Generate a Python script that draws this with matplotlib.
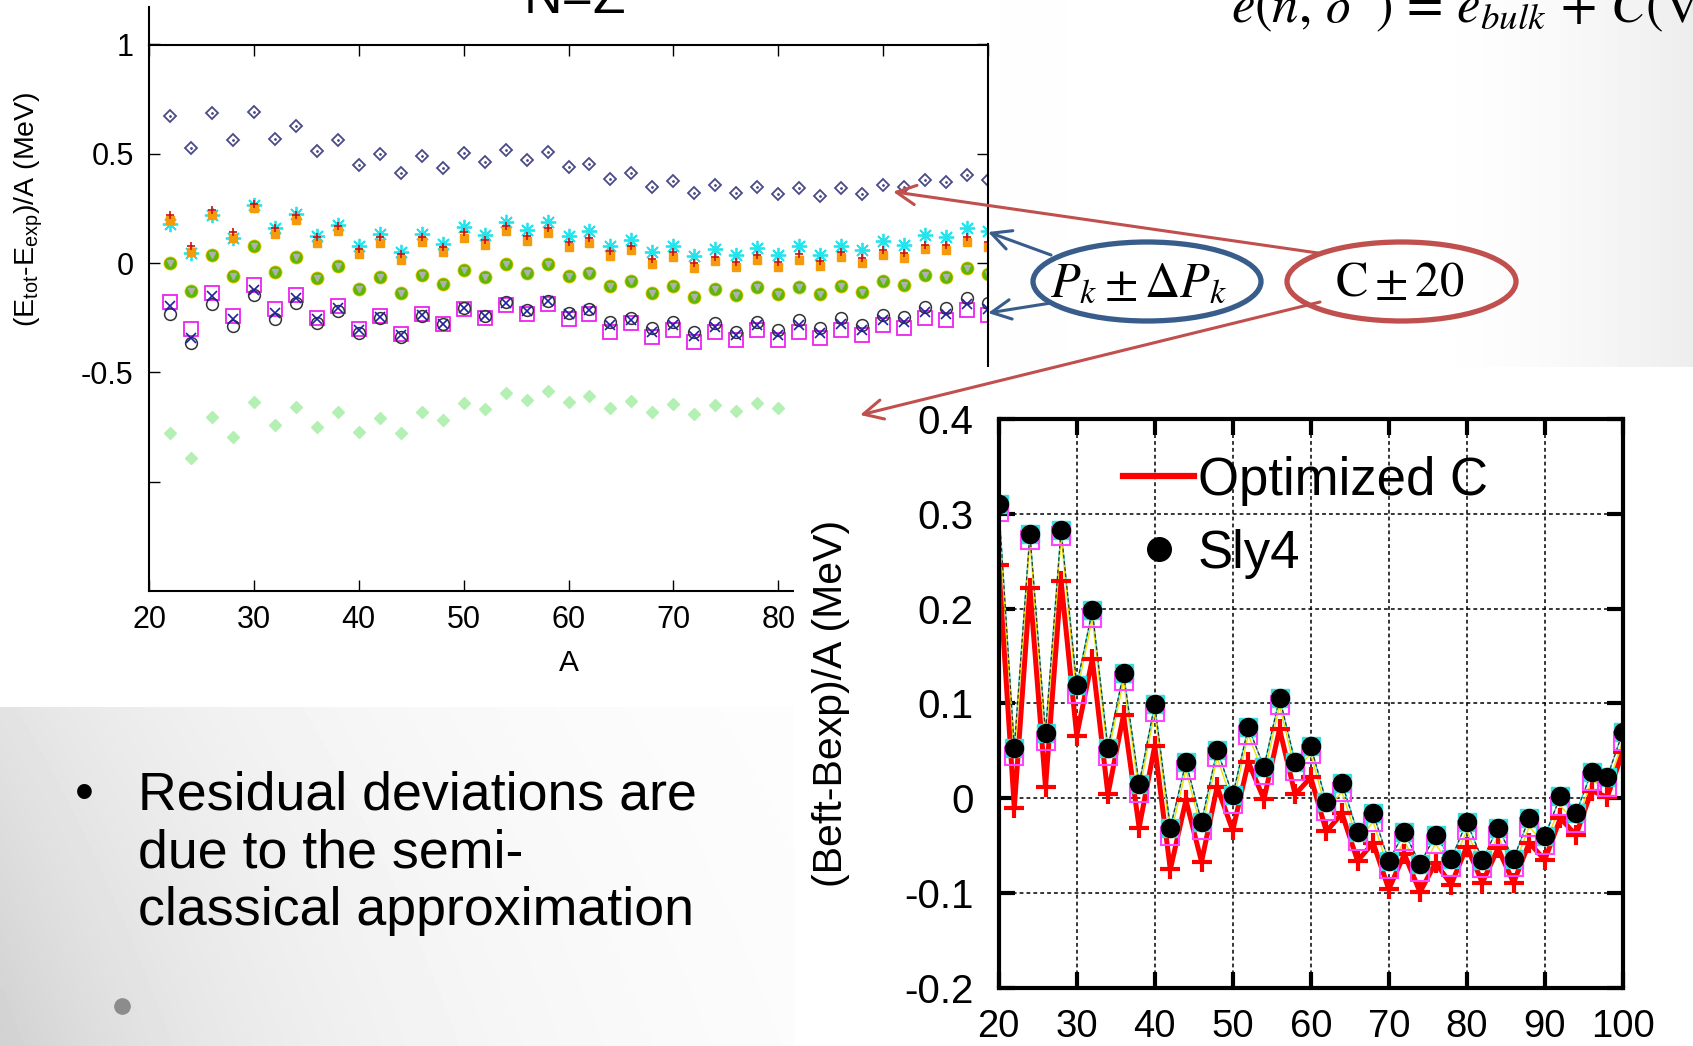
import numpy as np
import matplotlib
matplotlib.use("Agg")
import matplotlib.pyplot as plt
from matplotlib.patches import Ellipse, Rectangle
from matplotlib.lines import Line2D

plt.rcParams['font.family'] = ['Liberation Sans', 'DejaVu Sans']
plt.rcParams['axes.unicode_minus'] = False
plt.rcParams['mathtext.fontset'] = 'custom'
plt.rcParams['mathtext.rm'] = 'Liberation Sans'
plt.rcParams['mathtext.it'] = 'Liberation Sans:italic'

# === 左图数据 (N=Z, (Etot-Eexp)/A) ===
A_left = list(range(22, 101, 2))
open_diamond = [0.674, 0.526, 0.685, 0.565, 0.692, 0.568, 0.626, 0.514, 0.564, 0.448,
                0.497, 0.411, 0.488, 0.436, 0.503, 0.462, 0.516, 0.471, 0.506, 0.438,
                0.455, 0.387, 0.410, 0.347, 0.375, 0.321, 0.355, 0.320, 0.346, 0.317,
                0.344, 0.306, 0.344, 0.318, 0.358, 0.349, 0.378, 0.369, 0.405, 0.381]
cyan_star = [0.180, 0.045, 0.220, 0.117, 0.265, 0.159, 0.223, 0.126, 0.174, 0.076,
             0.132, 0.053, 0.135, 0.088, 0.167, 0.129, 0.190, 0.150, 0.190, 0.124,
             0.146, 0.080, 0.107, 0.050, 0.080, 0.031, 0.064, 0.038, 0.069, 0.038,
             0.076, 0.038, 0.080, 0.061, 0.099, 0.084, 0.130, 0.119, 0.161, 0.145]
red_plus = [0.220, 0.080, 0.245, 0.140, 0.270, 0.160, 0.220, 0.120, 0.170, 0.065,
            0.120, 0.040, 0.120, 0.075, 0.140, 0.105, 0.170, 0.125, 0.160, 0.095,
            0.115, 0.055, 0.080, 0.020, 0.050, 0.000, 0.030, 0.005, 0.035, 0.005,
            0.040, 0.010, 0.050, 0.025, 0.060, 0.045, 0.085, 0.085, 0.120, 0.095]
orange_sq = [0.197, 0.053, 0.220, 0.114, 0.250, 0.135, 0.197, 0.094, 0.147, 0.041,
             0.094, 0.015, 0.098, 0.050, 0.117, 0.083, 0.145, 0.100, 0.137, 0.072,
             0.093, 0.031, 0.058, -0.003, 0.028, -0.023, 0.009, -0.017, 0.012, -0.017,
             0.015, -0.015, 0.028, 0.000, 0.038, 0.023, 0.064, 0.061, 0.095, 0.073]
green_circ = [0.000, -0.129, 0.038, -0.061, 0.076, -0.041, 0.030, -0.068, -0.011, -0.117,
              -0.062, -0.136, -0.056, -0.095, -0.030, -0.065, -0.003, -0.047, -0.004, -0.061,
              -0.045, -0.104, -0.084, -0.135, -0.107, -0.156, -0.119, -0.145, -0.110, -0.141,
              -0.110, -0.141, -0.104, -0.130, -0.084, -0.099, -0.054, -0.064, -0.023, -0.049]
magenta_sq = [-0.177, -0.303, -0.136, -0.242, -0.098, -0.212, -0.144, -0.253, -0.197, -0.303,
              -0.242, -0.326, -0.235, -0.280, -0.212, -0.250, -0.190, -0.232, -0.189, -0.255,
              -0.232, -0.313, -0.275, -0.336, -0.306, -0.359, -0.313, -0.352, -0.306, -0.352,
              -0.313, -0.344, -0.306, -0.329, -0.283, -0.298, -0.252, -0.260, -0.214, -0.237]
black_circ = [-0.235, -0.364, -0.186, -0.288, -0.144, -0.258, -0.182, -0.273, -0.220, -0.318,
              -0.253, -0.338, -0.242, -0.280, -0.205, -0.242, -0.180, -0.215, -0.172, -0.228,
              -0.210, -0.268, -0.252, -0.298, -0.268, -0.313, -0.275, -0.313, -0.268, -0.306,
              -0.260, -0.298, -0.252, -0.283, -0.237, -0.245, -0.199, -0.206, -0.161, -0.183]
blue_x = [-0.197, -0.341, -0.152, -0.258, -0.121, -0.227, -0.159, -0.258, -0.205, -0.308,
          -0.247, -0.329, -0.238, -0.277, -0.205, -0.242, -0.181, -0.218, -0.175, -0.235,
          -0.215, -0.285, -0.260, -0.315, -0.285, -0.335, -0.292, -0.330, -0.285, -0.327,
          -0.285, -0.320, -0.280, -0.305, -0.260, -0.270, -0.225, -0.232, -0.188, -0.210]
# 浅绿菱形只在 A<=80 可见（右侧被右图遮住）
A_lightgreen = list(range(22, 81, 2))
lightgreen_dia = [-0.778, -0.893, -0.702, -0.794, -0.636, -0.740, -0.656, -0.748, -0.679, -0.771,
                  -0.709, -0.775, -0.682, -0.717, -0.641, -0.668, -0.595, -0.628, -0.583, -0.636,
                  -0.607, -0.664, -0.633, -0.683, -0.645, -0.691, -0.648, -0.676, -0.641, -0.664]
left_xticks = [20, 30, 40, 50, 60, 70, 80, 90, 100]
left_xticklabels = ['20', '30', '40', '50', '60', '70', '80', '', '']
left_yticks = [-1, -0.5, 0, 0.5, 1]
left_yticklabels = ['', '-0.5', '0', '0.5', '1']

# === 右图数据 ((Beft-Bexp)/A) ===
A_right = list(range(20, 101, 2))
sly4 = [0.310, 0.053, 0.279, 0.069, 0.283, 0.119, 0.198, 0.053, 0.132, 0.015,
        0.099, -0.031, 0.038, -0.025, 0.051, 0.003, 0.075, 0.033, 0.106, 0.038,
        0.055, -0.004, 0.016, -0.036, -0.016, -0.066, -0.036, -0.069, -0.039, -0.064,
        -0.025, -0.065, -0.031, -0.064, -0.021, -0.040, 0.002, -0.016, 0.028, 0.022, 0.070]
optimized_c = [0.246, -0.010, 0.222, 0.012, 0.229, 0.066, 0.147, 0.004, 0.088, -0.031,
               0.055, -0.075, -0.002, -0.067, 0.012, -0.034, 0.038, -0.001, 0.073, 0.004,
               0.022, -0.035, -0.016, -0.066, -0.047, -0.096, -0.059, -0.099, -0.068, -0.091,
               -0.051, -0.089, -0.053, -0.089, -0.047, -0.065, -0.021, -0.039, 0.008, 0.001, 0.049]
other_c = [0.302, 0.045, 0.272, 0.060, 0.276, 0.110, 0.190, 0.045, 0.124, 0.006,
           0.091, -0.040, 0.030, -0.034, 0.043, -0.006, 0.067, 0.024, 0.098, 0.029,
           0.047, -0.013, 0.007, -0.045, -0.025, -0.075, -0.045, -0.078, -0.048, -0.073,
           -0.034, -0.074, -0.040, -0.073, -0.030, -0.049, -0.008, -0.026, 0.018, 0.012, 0.060]
right_xticks = [20, 30, 40, 50, 60, 70, 80, 90, 100]
right_yticks = [-0.2, -0.1, 0, 0.1, 0.2, 0.3, 0.4]
right_yticklabels = ['-0.2', '-0.1', '0', '0.1', '0.2', '0.3', '0.4']

bullet_lines = ["Residual deviations are", "due to the semi-", "classical approximation"]

# === 画布 (像素坐标) ===
W, H = 1693, 1046
fig = plt.figure(figsize=(W / 100, H / 100), dpi=100)


def frac(x0, y0, x1, y1):
    return [x0 / W, 1 - y1 / H, (x1 - x0) / W, (y1 - y0) / H]


# 背景渐变 + 文本
ax_bg = fig.add_axes([0, 0, 1, 1], zorder=-1)
xs = np.linspace(0, W, 424)
ys = np.linspace(0, H, 262)
X, Y = np.meshgrid(xs, ys)
left_dark = (0.11 + 0.07 * np.clip((Y - 707) / 339, 0, 1)) * np.exp(-X / 320)
right_dark = 0.07 * np.clip((X - 1420) / 273, 0, 1) ** 1.6
ax_bg.imshow(1 - left_dark - right_dark, cmap='gray', vmin=0, vmax=1,
             extent=[0, W, H, 0], aspect='auto', interpolation='bilinear')
ax_bg.add_patch(Rectangle((0, 0), 1000, 707, facecolor='white', edgecolor='none'))
ax_bg.set_xlim(0, W); ax_bg.set_ylim(H, 0)
ax_bg.axis('off')
ax_bg.text(84, 810, "\u2022", fontsize=38.7, ha='center', va='baseline')
for i, line in enumerate(bullet_lines):
    ax_bg.text(138, 810 + 57.5 * i, line, fontsize=38.7, ha='left', va='baseline')
ax_bg.plot(122, 1006, 'o', ms=11, color='#8c8c8c')

# --- 左图 ---
axL = fig.add_axes(frac(149, 44.5, 988, 591), zorder=1)
axL.plot(A_left, open_diamond, 'D', ms=6, mfc='none', mec='#4a4a88', mew=1.3, ls='none')
axL.plot(A_left, open_diamond, '.', ms=2, color='#4a4a88', ls='none')
axL.plot(A_left, cyan_star, marker=(8, 2, 0), ms=11, color='#22e4ec', mew=1.3, ls='none')
axL.plot(A_left, orange_sq, 's', ms=6, color='#f59a0c', ls='none')
axL.plot(A_left, red_plus, '+', ms=6, color='#d01010', mew=1.2, ls='none')
axL.plot(A_left, green_circ, 'o', ms=9, color='#f0c000', ls='none')
axL.plot(A_left, green_circ, 'o', ms=7.8, color='#5cb800', ls='none')
axL.plot(A_left, green_circ, 'v', ms=4.8, color='#b0b0b0', ls='none')
axL.plot(A_left, magenta_sq, 's', ms=9.5, mfc='none', mec='#ee22ee', mew=1.3, ls='none')
axL.plot(A_left, black_circ, 'o', ms=8.5, mfc='none', mec='#333333', mew=1.1, ls='none')
axL.plot(A_left, blue_x, 'x', ms=7.5, color='#2020a0', mew=1.2, ls='none')
axL.plot(A_lightgreen, lightgreen_dia, 'D', ms=6.5, color='#b4f0b4', ls='none')

axL.set_xlim(20, 100)
axL.set_ylim(-1.5, 1)
axL.set_xticks(left_xticks)
axL.set_xticklabels(left_xticklabels)
axL.set_yticks(left_yticks)
axL.set_yticklabels(left_yticklabels)
axL.tick_params(direction='in', top=True, right=True, length=8, width=1,
                labelsize=22)
axL.tick_params(axis='x', pad=10)
axL.tick_params(axis='y', pad=11)
for sp in axL.spines.values():
    sp.set_linewidth(1.5)
axL.set_xlabel("A", fontsize=21.5)
axL.xaxis.set_label_coords(0.5, -0.106)
axL.set_ylabel(r"(E$_\mathrm{tot}$-E$_\mathrm{exp}$)/A (MeV)", fontsize=20.5)
axL.yaxis.set_label_coords(-0.124, 0.698)

# 右图所在的白色图片区域，盖住左图右下角
fig.add_artist(Rectangle((794 / W, 0), (W - 794) / W, 1 - 367 / H,
                         transform=fig.transFigure, facecolor='white',
                         edgecolor='none', zorder=1.5))

# --- 右图 ---
axR = fig.add_axes(frac(998.7, 418.9, 1622.8, 987.9), zorder=2)
axR.set_axisbelow(True)
axR.grid(True, color='black', lw=1.1, ls=(0, (2.5, 2)))
axR.plot(A_right, sly4, color='#22dddd', lw=1.0)
axR.plot(A_right, other_c, color='#f0e000', lw=1.0)
axR.plot(A_right, sly4, color='#333333', lw=0.9, ls=(0, (3, 2)))
axR.plot(A_right, optimized_c, color='red', lw=3.6, marker='+', ms=14, mew=3)
axR.plot(A_right, sly4, 's', ms=13.5, color='#33e0e0', ls='none')
axR.plot(A_right, other_c, 's', ms=12.5, mfc='none', mec='#ff44ff', mew=1.5, ls='none')
axR.plot(A_right, sly4, 'o', ms=13, color='black', ls='none')

axR.set_xlim(20, 100)
axR.set_ylim(-0.2, 0.4)
axR.set_xticks(right_xticks)
axR.set_yticks(right_yticks)
axR.set_yticklabels(right_yticklabels)
axR.tick_params(direction='in', top=True, right=True, length=11.5, width=3,
                labelsize=29)
axR.tick_params(axis='x', pad=15, labelsize=27.5)
axR.tick_params(axis='y', pad=18)
for sp in axR.spines.values():
    sp.set_linewidth(3)
axR.set_ylabel("(Beft-Bexp)/A (MeV)", fontsize=29.5)
axR.yaxis.set_label_coords(-0.238, 0.5)
handles = [Line2D([], [], color='red', lw=4.5),
           Line2D([], [], ls='none', marker='o', ms=17, color='black')]
axR.legend(handles, ["Optimized C", "Sly4"], loc='upper left',
           bbox_to_anchor=(0.166, 0.972), borderaxespad=0, frameon=False,
           fontsize=38, handlelength=1.33, handletextpad=0.08, labelspacing=0.43)

# --- 标注层 ---
ax_an = fig.add_axes([0, 0, 1, 1], zorder=3)
ax_an.set_xlim(0, W); ax_an.set_ylim(H, 0)
ax_an.axis('off')
ax_an.plot([149, 149], [7, 45], color='black', lw=1.5)
ax_an.text(575, 13, "N=Z", fontsize=38.5, ha='center', va='baseline')
ax_an.text(1231, 22, r"$e(n,\,\delta^{\prime}\,)\,=\,e_{bulk}\,+\,C(\nabla n$", fontsize=38,
           ha='left', va='baseline', math_fontfamily='stix')

blue = '#385D8A'
red = '#C0504D'
ax_an.add_patch(Ellipse((1147, 281.5), 228, 79, fill=False, ec=blue, lw=3.8))
ax_an.add_patch(Ellipse((1401.5, 281.5), 229, 79, fill=False, ec=red, lw=3.8))
ax_an.text(1138, 296, r"$P_k\pm\Delta P_k$", fontsize=35, ha='center', va='baseline',
           math_fontfamily='stix')
ax_an.text(1400, 296, r"$\mathrm{C}\pm20$", fontsize=35, ha='center', va='baseline',
           math_fontfamily='stix')

arrow_style = '->,head_length=0.7,head_width=0.35'
for tail, head, col in [((1051, 255), (988, 232), blue),
                        ((1051, 303), (988, 313), blue),
                        ((1318, 253), (893, 191.7), red),
                        ((1320, 302), (860, 415), red)]:
    ax_an.annotate('', xy=head, xytext=tail,
                   arrowprops=dict(arrowstyle=arrow_style, color=col, lw=2.2,
                                   mutation_scale=20, shrinkA=0, shrinkB=0))

fig.savefig("out.png", dpi=100)
